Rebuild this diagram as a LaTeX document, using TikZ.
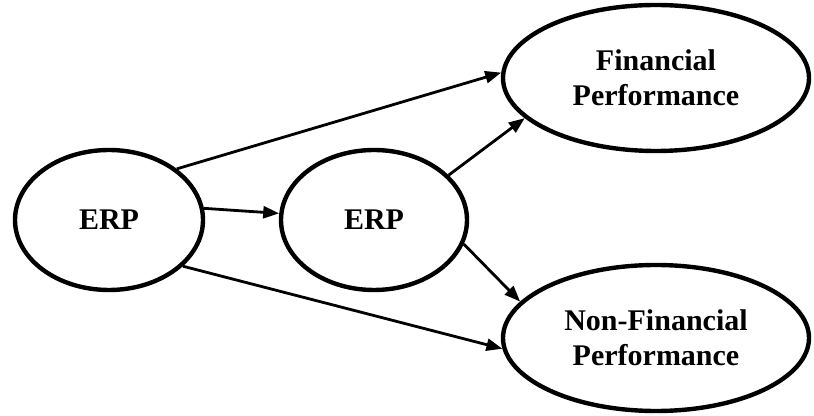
\documentclass[tikz,border=0pt]{standalone}
\usepackage{fontspec}
\setmainfont{Liberation Serif}
\usepackage{tikz}
\usetikzlibrary{shapes.geometric}
\usetikzlibrary{arrows.meta,calc}
\tikzset{
  construct/.style = {
    ellipse, draw, line width=2.2pt, inner sep=0pt, align=center,
    font=\fontsize{15}{17.5}\selectfont\bfseries
  },
  link/.style = {
    line width=1.4pt, -{Triangle[length=8pt,width=6pt]}
  }
}

\begin{document}
\begin{tikzpicture}[x=0.5pt,y=-0.5pt]

  \useasboundingbox (0,0) rectangle (814,416);

  \node[construct, minimum width=94pt, minimum height=70pt] (erpA) at (109,220) {ERP};
  \node[construct, minimum width=93pt, minimum height=70pt] (erpB) at (374,220) {ERP};
  \node[construct, minimum width=153pt, minimum height=73pt] (finPerf) at (656,78) {Financial\\Performance};
  \node[construct, minimum width=153pt, minimum height=73pt] (nonfinPerf) at (656,338) {Non-Financial\\Performance};

  \draw[link] (erpA.37) -- (finPerf.178);
  \draw[link] (erpA.7) -- (erpB.176);
  \draw[link] (erpA.-32) -- (nonfinPerf.184);

  \draw[link] (erpB.31) -- (finPerf.-163);
  \draw[link] (erpB.-15) -- (nonfinPerf.165);

\end{tikzpicture}
\end{document}
